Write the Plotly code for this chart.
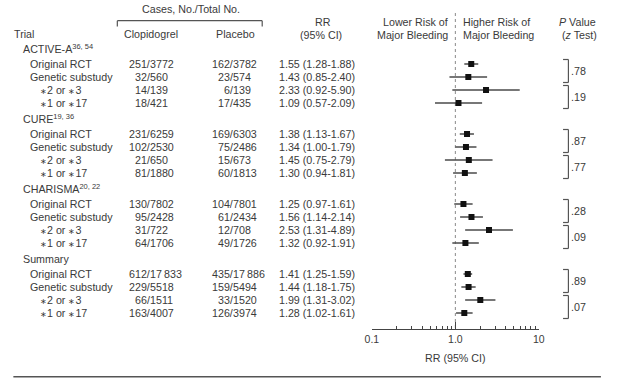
import plotly.graph_objects as go

# ---------------- data ----------------
groups = ["ACTIVE-A", "CURE", "CHARISMA", "Summary"]
group_refs = ["36, 54", "19, 36", "20, 22", ""]
AST = '<span style="font-size:8px">\u2217</span>'
subrows = ["Original RCT", "Genetic substudy", f"{AST}2 or {AST}3", f"{AST}1 or {AST}17"]

clop_cases = [[251, 32, 14, 18], [231, 102, 21, 81], [130, 95, 31, 64], [612, 229, 66, 163]]
clop_total = [[3772, 560, 139, 421], [6259, 2530, 650, 1880], [7802, 2428, 722, 1706], [17833, 5518, 1511, 4007]]
plac_cases = [[162, 23, 6, 17], [169, 75, 15, 60], [104, 61, 12, 49], [435, 159, 33, 126]]
plac_total = [[3782, 574, 139, 435], [6303, 2486, 673, 1813], [7801, 2434, 708, 1726], [17886, 5494, 1520, 3974]]

rr = [[1.55, 1.43, 2.33, 1.09], [1.38, 1.34, 1.45, 1.30], [1.25, 1.56, 2.53, 1.32], [1.41, 1.44, 1.99, 1.28]]
rr_lo = [[1.28, 0.85, 0.92, 0.57], [1.13, 1.00, 0.75, 0.94], [0.97, 1.14, 1.31, 0.92], [1.25, 1.18, 1.31, 1.02]]
rr_hi = [[1.88, 2.40, 5.90, 2.09], [1.67, 1.79, 2.79, 1.81], [1.61, 2.14, 4.89, 1.91], [1.59, 1.75, 3.02, 1.61]]

p_values = [[".78", ".19"], [".87", ".77"], [".28", ".09"], [".89", ".07"]]

tick_vals = [0.1, 1, 10]
tick_text = ["0.1", "1.0", "10"]
minor_vals = [0.2, 0.3, 0.4, 0.5, 0.6, 0.7, 0.8, 0.9, 2, 3, 4, 5, 6, 7, 8, 9]

# ---------------- layout helpers ----------------
W, H = 617, 382
AX_BOTTOM = 329          # pixel y of the x axis line
FIRST_ROW = 64           # pixel y of the first data row
GROUP_PITCH = 70
ROW_PITCH = 13
HEADER_OFF = 15.5

FONT = "Liberation Sans, Arial, sans-serif"
TXT = "#3a3a3a"
FS = 10.7
LINE = "#555555"


def px(x):
    return x / W


def py(y):
    return 1 - y / H


def row_y(g, r):
    return FIRST_ROW + g * GROUP_PITCH + r * ROW_PITCH


def fmt_n(n):
    s = str(n)
    if n >= 10000:
        s = s[:-3] + "\u2009" + s[-3:]
    return s


annotations = []


def text(x, y, s, anchor="left", size=FS, color=TXT):
    annotations.append(dict(
        x=px(x), y=py(y), xref="paper", yref="paper", text=s, showarrow=False,
        xanchor=anchor, yanchor="middle", borderpad=0, borderwidth=0,
        font=dict(family=FONT, size=size, color=color)))


shapes = []


def seg(x0, y0, x1, y1, color=LINE, width=1.2):
    shapes.append(dict(type="line", xref="paper", yref="paper",
                       x0=px(x0), y0=py(y0), x1=px(x1), y1=py(y1),
                       line=dict(color=color, width=width)))


# ---------------- headers ----------------
text(187.5, 9, "Cases, No./Total No.", "center")
seg(112.7, 20.7, 260.7, 20.7)
seg(112.7, 20.7, 112.7, 26.5)
seg(260.7, 20.7, 260.7, 26.5)
text(7, 33.5, "Trial")
text(147, 33.5, "Clopidogrel", "center")
text(233, 33.5, "Placebo", "center")
text(323, 21.7, "RR", "center")
text(321, 35, "(95% CI)", "center")
text(450, 21.7, "Lower Risk of", "right")
text(450, 35, "Major Bleeding", "right")
text(466, 21.7, "Higher Risk of", "left")
text(466, 35, "Major Bleeding", "left")
text(583, 21.7, "<i>P</i> Value", "center")
text(585, 35, "(<i>z</i> Test)", "center")

CLOP_SLASH = 146.2
PLAC_SLASH = 231.2

# ---------------- rows ----------------
ci_x, ci_y, pt_x, pt_y = [], [], [], []
for g, name in enumerate(groups):
    label = name + (f"<sup>{group_refs[g]}</sup>" if group_refs[g] else "")
    text(16.5, row_y(g, 0) - HEADER_OFF, label)
    for r, sub in enumerate(subrows):
        y = row_y(g, r)
        text(24 if r < 2 else 34, y, sub)
        text(CLOP_SLASH, y, f"{clop_cases[g][r]}/", "right")
        text(CLOP_SLASH, y, fmt_n(clop_total[g][r]), "left")
        text(PLAC_SLASH, y, f"{plac_cases[g][r]}/", "right")
        text(PLAC_SLASH, y, fmt_n(plac_total[g][r]), "left")
        text(278, y, f"{rr[g][r]:.2f} ({rr_lo[g][r]:.2f}-{rr_hi[g][r]:.2f})")
        ci_x += [rr_lo[g][r], rr_hi[g][r], None]
        ci_y += [y, y, None]
        pt_x.append(rr[g][r])
        pt_y.append(y)
    # P value brackets
    for k in range(2):
        top = row_y(g, 2 * k) - 4.5
        bot = row_y(g, 2 * k + 1) + 5.5
        seg(573.5, top, 573.5, bot)
        seg(568, top, 573.5, top)
        seg(568, bot, 573.5, bot)
        text(576.5, (top + bot) / 2, p_values[g][k])

# axis title and bottom rule
text(458, 358, "RR (95% CI)", "center")
seg(6.5, 376.7, 606.7, 376.7, color="#555555", width=1.4)

fig = go.Figure()
# reference line at RR = 1
fig.add_trace(go.Scatter(x=[1, 1], y=[13, AX_BOTTOM], mode="lines",
                         line=dict(color="#8a8a8a", width=1, dash="dot"),
                         hoverinfo="skip", showlegend=False))
fig.add_trace(go.Scatter(x=ci_x, y=ci_y, mode="lines",
                         line=dict(color="#4a4a4a", width=1.3),
                         hoverinfo="skip", showlegend=False))
fig.add_trace(go.Scatter(x=pt_x, y=pt_y, mode="markers",
                         marker=dict(symbol="square", size=6, color="#111111"),
                         showlegend=False))

fig.update_layout(
    width=W, height=H,
    margin=dict(l=0, r=0, t=0, b=0),
    paper_bgcolor="white", plot_bgcolor="white",
    showlegend=False,
    annotations=annotations,
    shapes=shapes,
    xaxis=dict(
        type="log", range=[-1, 1],
        domain=[372.7 / W, 543.3 / W],
        showgrid=False, zeroline=False,
        showline=True, linecolor="#444444", linewidth=1.2,
        ticks="inside", ticklen=7, tickwidth=1.2, tickcolor="#444444",
        tickmode="array", tickvals=tick_vals, ticktext=tick_text,
        tickfont=dict(family=FONT, size=10.5, color=TXT),
        minor=dict(tickmode="array", tickvals=minor_vals, ticks="inside",
                   ticklen=3.5, tickwidth=1, tickcolor="#444444", showgrid=False),
        fixedrange=True,
    ),
    yaxis=dict(
        range=[AX_BOTTOM, 0],
        domain=[1 - AX_BOTTOM / H, 1],
        visible=False, showgrid=False, zeroline=False, fixedrange=True,
    ),
)

fig.write_html("out.html",
               config={"displayModeBar": False, "staticPlot": True},
               post_script="document.body.style.margin='0';document.body.style.overflow='hidden';")
